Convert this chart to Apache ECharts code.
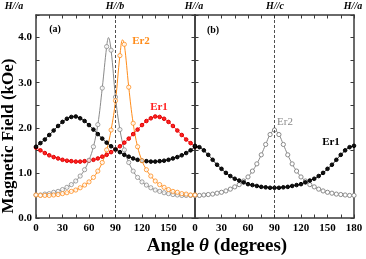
<!DOCTYPE html>
<html><head><meta charset="utf-8">
<script src="https://cdn.jsdelivr.net/npm/echarts@6/dist/echarts.min.js"></script>
<style>html,body{margin:0;padding:0;background:#fff}#c{width:366px;height:259px}</style>
</head><body><div id="c"></div>
<script>
// ---- data ----
const angles = [0,5,10,15,20,25,30,35,40,45,50,55,60,65,70,75,80,85,90,95,100,105,110,115,120,125,130,135,140,145,150,155,160,165,170,175,180];
// panel (a): H in ab-plane
const er1A_black = [1.58,1.66,1.74,1.84,1.94,2.04,2.13,2.20,2.24,2.25,2.21,2.15,2.06,1.96,1.86,1.76,1.67,1.59,1.52,1.46,1.40,1.36,1.32,1.29,1.27,1.26,1.25,1.25,1.26,1.27,1.29,1.32,1.35,1.39,1.44,1.50,1.58];
const er1A_red   = [1.56,1.50,1.44,1.39,1.35,1.32,1.29,1.27,1.26,1.25,1.25,1.26,1.27,1.29,1.32,1.36,1.40,1.46,1.52,1.59,1.67,1.76,1.86,1.96,2.06,2.15,2.21,2.25,2.24,2.20,2.13,2.04,1.94,1.84,1.74,1.66,1.58];
const er2A_gray  = [0.51,0.51,0.53,0.54,0.57,0.59,0.63,0.68,0.74,0.82,0.93,1.07,1.28,1.58,2.07,2.88,3.80,3.72,2.68,1.96,1.51,1.23,1.04,0.90,0.80,0.73,0.67,0.62,0.59,0.56,0.54,0.52,0.51,0.50,0.50,0.50,0.51];
const er2A_grayPeak = [82, 4.0];
const er2A_orange = [0.51,0.50,0.50,0.50,0.51,0.52,0.54,0.56,0.59,0.62,0.67,0.73,0.80,0.90,1.04,1.23,1.51,1.95,2.60,3.60,3.85,2.90,2.10,1.58,1.27,1.07,0.93,0.82,0.74,0.68,0.63,0.59,0.57,0.54,0.53,0.51,0.51];
const er2A_orangePeak = [98, 3.95];
// panel (b): H in ac-plane
const er1B_black = [1.60,1.57,1.50,1.40,1.29,1.18,1.09,1.00,0.93,0.87,0.83,0.79,0.75,0.73,0.71,0.69,0.68,0.67,0.67,0.67,0.68,0.69,0.71,0.73,0.75,0.79,0.83,0.87,0.93,1.00,1.09,1.18,1.29,1.40,1.50,1.57,1.60];
const er2B_gray  = [0.50,0.50,0.51,0.52,0.53,0.55,0.57,0.60,0.64,0.69,0.74,0.82,0.91,1.04,1.20,1.40,1.63,1.85,1.95,1.85,1.63,1.40,1.20,1.04,0.91,0.82,0.74,0.69,0.64,0.60,0.57,0.55,0.53,0.52,0.51,0.50,0.50];
const xTickLabels = [0,30,60,90,120,150,180];
const yTickLabels = [0,1,2,3,4];
const topLabels = ['H//a','H//b','H//a','H//c','H//a'];

// ---- helpers ----
const FF = "'Liberation Serif','DejaVu Serif',serif";
const AX = '#3a3a3a';
const pairs = arr => angles.map((a,i)=>[a, arr[i]]);
const withPeak = (arr, pk) => pairs(arr).concat([pk]).sort((p,q)=>p[0]-q[0]);

function xAx(grid, pos, labels, hide180){
  return {type:'value', gridIndex:grid, position:pos, min:0, max:180, interval:15,
    axisLine:{show:true, onZero:false, lineStyle:{color:AX, width:1.5}},
    axisTick:{show:true, inside:true, length:3.5, lineStyle:{color:AX, width:1}},
    axisLabel:{show:labels, interval:0, margin:5, fontFamily:FF, fontWeight:'bold', fontSize:11, color:'#000',
      formatter:v => (xTickLabels.includes(v) && !(hide180 && v===180)) ? String(v) : ''},
    splitLine:{show:false}};
}
function yAx(grid, pos, labels){
  return {type:'value', gridIndex:grid, position:pos, min:0, max:4.5, interval:0.5,
    axisLine:{show:true, onZero:false, lineStyle:{color:AX, width:1.5}},
    axisTick:{show:true, inside:true, length:3.5, lineStyle:{color:AX, width:1}},
    axisLabel:{show:labels, margin:4, fontFamily:FF, fontWeight:'bold', fontSize:11, color:'#000',
      formatter:v => yTickLabels.includes(v) ? v.toFixed(1) : ''},
    splitLine:{show:false}};
}
const vline = {silent:true, symbol:'none', label:{show:false}, animation:false,
  lineStyle:{type:[3,2], color:'#222', width:0.8}, data:[{xAxis:90}]};

const GRAY='#8a8a8a', ORANGE='#ff8c1a', RED='#ff2222', BLACK='#111';

function dotLine(xi, yi, data, color, filled, border, mark){
  const s = {type:'line', xAxisIndex:xi, yAxisIndex:yi, data, smooth:0.4,
    showSymbol:true, showAllSymbol:true, symbol:'circle', symbolSize:filled?3.6:4.2,
    lineStyle:{color, width:1}, itemStyle:{color: filled?color:'#fff', borderColor:border, borderWidth:1}, z:3};
  if (mark) s.markLine = mark;
  return s;
}
function fitLine(xi, yi, data, color, mark){
  const s = {type:'line', xAxisIndex:xi, yAxisIndex:yi, data, smooth:0.4, showSymbol:false,
    lineStyle:{color, width:1}, z:2};
  if (mark) s.markLine = mark;
  return s;
}
function pts(xi, yi, data, color){
  return {type:'scatter', xAxisIndex:xi, yAxisIndex:yi, data, symbol:'circle', symbolSize:4.2,
    itemStyle:{color:'#fff', borderColor:color, borderWidth:1}, z:4};
}

const txt = (x,y,text,o) => ({type:'text', x, y, z:10, style:Object.assign({text, fontFamily:FF, fontWeight:'bold', fontSize:10, fill:'#000', align:'center', verticalAlign:'middle'}, o||{})});

const chart = echarts.init(document.getElementById('c'), null, {renderer:'canvas'});
chart.setOption({
  animation:false,
  backgroundColor:'#fff',
  grid:[{left:36, top:15, width:159, height:203},{left:195, top:15, width:159, height:203}],
  xAxis:[xAx(0,'bottom',true,true), xAx(0,'top',false,false), xAx(1,'bottom',true,false), xAx(1,'top',false,false)],
  yAxis:[yAx(0,'left',true), yAx(0,'right',false), yAx(1,'left',false), yAx(1,'right',false)],
  series:[
    fitLine(0,0, withPeak(er2A_gray, er2A_grayPeak), GRAY, vline),
    pts(0,0, pairs(er2A_gray), GRAY),
    fitLine(0,0, withPeak(er2A_orange, er2A_orangePeak), ORANGE),
    pts(0,0, pairs(er2A_orange), ORANGE),
    dotLine(0,0, pairs(er1A_red), RED, true, '#e00000'),
    dotLine(0,0, pairs(er1A_black), BLACK, true, '#000'),
    dotLine(2,2, pairs(er2B_gray), GRAY, false, GRAY, vline),
    dotLine(2,2, pairs(er1B_black), BLACK, true, '#000')
  ],
  graphic:[
    txt(14,6,topLabels[0],{fontStyle:'italic'}),
    txt(115,6,topLabels[1],{fontStyle:'italic'}),
    txt(194,6,topLabels[2],{fontStyle:'italic'}),
    txt(275,6,topLabels[3],{fontStyle:'italic'}),
    txt(353,6,topLabels[4],{fontStyle:'italic'}),
    txt(55,29,'(a)',{fontSize:10}),
    txt(213,30,'(b)',{fontSize:10}),
    txt(141,41,'Er2',{fontSize:11, fill:ORANGE}),
    txt(159,107,'Er1',{fontSize:11, fill:RED}),
    txt(277,122,'Er2',{fontSize:11, fill:GRAY, fontWeight:'normal', align:'left'}),
    txt(331,142,'Er1',{fontSize:11}),
    {type:'text', x:9, y:136, rotation:Math.PI/2, z:10,
      style:{text:'Magnetic Field (kOe)', fontFamily:FF, fontWeight:'bold', fontSize:17, fill:'#000', align:'center', verticalAlign:'middle'}},
    {type:'text', x:217, y:246, z:10,
      style:{text:'Angle {i|θ} (degrees)', fontFamily:FF, fontWeight:'bold', fontSize:19, fill:'#000', align:'center', verticalAlign:'middle',
        rich:{i:{fontFamily:FF, fontWeight:'bold', fontStyle:'italic', fontSize:19, fill:'#000'}}}}
  ]
});
</script></body></html>
